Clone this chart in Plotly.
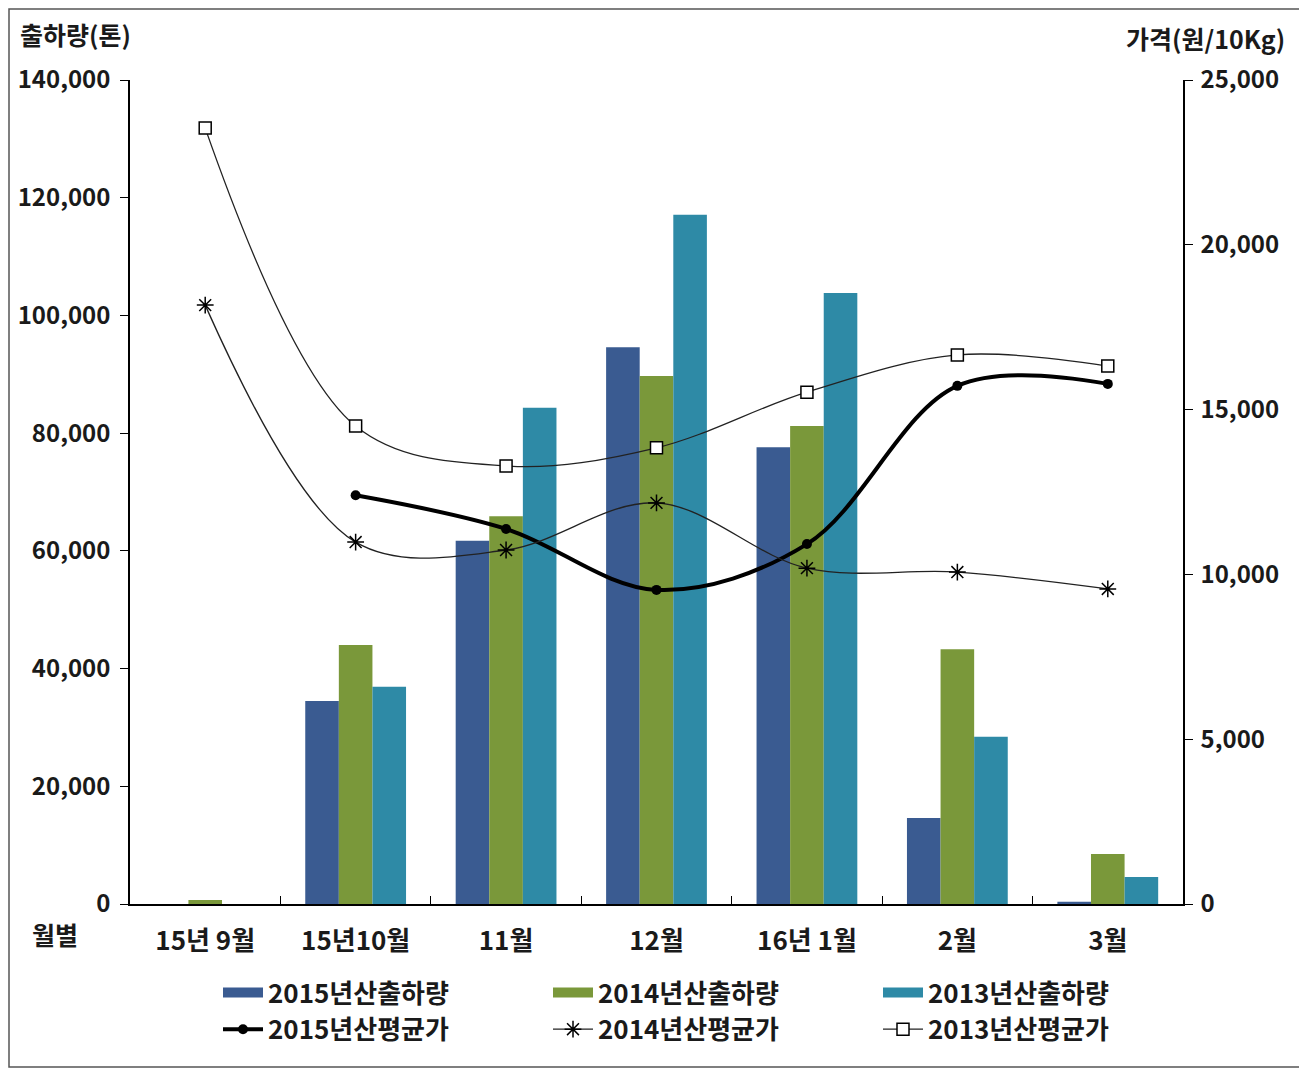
import plotly.graph_objects as go

categories = ["15년 9월", "15년10월", "11월", "12월", "16년 1월", "2월", "3월"]

ship_2015 = [0, 34500, 61700, 94600, 77600, 14600, 400]
ship_2014 = [700, 44000, 65900, 89700, 81200, 43300, 8500]
ship_2013 = [0, 36900, 84300, 117100, 103800, 28400, 4600]

price_2015 = [None, 12400, 11380, 9530, 10920, 15720, 15780]
price_2014 = [18170, 10980, 10740, 12170, 10190, 10070, 9560]
price_2013 = [23540, 14500, 13290, 13840, 15530, 16660, 16320]

bar_names = ["2015년산출하량", "2014년산출하량", "2013년산출하량"]
line_names = ["2015년산평균가", "2014년산평균가", "2013년산평균가"]
left_ticks = [0, 20000, 40000, 60000, 80000, 100000, 120000, 140000]
right_ticks = [0, 5000, 10000, 15000, 20000, 25000]

FONT = "Noto Sans CJK KR"
TXT = "#1a1a1a"
# the page body adds an 8px offset; figure coordinates = reference pixels - 8
OFF = 8
W, H = 1307 - OFF, 1069 - OFF
ML, MT = 130 - OFF, 80 - OFF
MR = W - (1183 - OFF)
MB = H - (904 - OFF)
pw = W - ML - MR
ph = H - MT - MB


def px(xabs):
    return (xabs - OFF - ML) / pw


def py(yabs):
    return (H - MB - (yabs - OFF)) / ph


fig = go.Figure()
bar_colors = ["#3A5B91", "#7A983A", "#2E8AA6"]
for name, vals, col in zip(bar_names, [ship_2015, ship_2014, ship_2013], bar_colors):
    fig.add_trace(go.Bar(x=categories, y=vals, name=name, marker=dict(color=col, line=dict(width=0)),
                         yaxis="y", showlegend=False, legendgroup=name))
# legend swatches drawn as wide bands (like the reference's bar keys)
for name, col in zip(bar_names, bar_colors):
    fig.add_trace(go.Scatter(x=[None], y=[None], name=name, mode="lines", legendgroup=name,
                             line=dict(color=col, width=13), yaxis="y"))

fig.add_trace(go.Scatter(x=categories, y=price_2015, name=line_names[0], yaxis="y2",
                         mode="lines+markers", line=dict(color="black", width=4, shape="spline"),
                         marker=dict(symbol="circle", size=10, color="black")))
fig.add_trace(go.Scatter(x=categories, y=price_2014, name=line_names[1], yaxis="y2",
                         mode="lines+markers", line=dict(color="#222222", width=1.3, shape="spline"),
                         marker=dict(symbol="asterisk-open", size=14, color="black",
                                     line=dict(color="black", width=1.5))))
fig.add_trace(go.Scatter(x=categories, y=price_2013, name=line_names[2], yaxis="y2",
                         mode="lines+markers", line=dict(color="#222222", width=1.3, shape="spline"),
                         marker=dict(symbol="square", size=12, color="white",
                                     line=dict(color="black", width=1.5))))

yfont = dict(family=FONT, size=24, color=TXT, weight="bold")
xfont = dict(family=FONT, size=26, color=TXT, weight="bold")
afont = dict(family=FONT, size=25, color=TXT, weight="bold")

fig.update_layout(
    width=W, height=H,
    margin=dict(l=ML, r=MR, t=MT, b=MB, autoexpand=False),
    paper_bgcolor="white", plot_bgcolor="white",
    font=dict(family=FONT, size=22, color=TXT),
    barmode="group", bargap=0.33, bargroupgap=0,
    showlegend=True,
    legend=dict(orientation="h", x=px(218), xanchor="left",
                y=py(969), yanchor="top",
                entrywidth=275, entrywidthmode="pixels",
                font=dict(family=FONT, size=26, color=TXT, weight="bold"),
                tracegroupgap=0, itemwidth=40, traceorder="normal"),
    xaxis=dict(type="category", showline=True, linecolor="black", linewidth=1.5,
               ticks="inside", ticklen=8, tickcolor="black", tickson="boundaries",
               ticklabelstandoff=13, showgrid=False, automargin=False,
               tickfont=xfont),
    yaxis=dict(range=[0, 140000], tickvals=left_ticks, tickformat=",", showline=True,
               linecolor="black", linewidth=1.5, ticks="outside", ticklen=8, tickcolor="black",
               showgrid=False, zeroline=False, ticklabelstandoff=5, automargin=False,
               tickfont=yfont),
    yaxis2=dict(range=[0, 25000], tickvals=right_ticks, tickformat=",", overlaying="y", side="right",
                showline=True, linecolor="black", linewidth=1.5, ticks="outside", ticklen=8,
                tickcolor="black", showgrid=False, zeroline=False, ticklabelstandoff=3,
                automargin=False, tickfont=yfont),
    annotations=[
        dict(text="출하량(톤)", xref="paper", yref="paper", x=px(18), y=py(34),
             xanchor="left", yanchor="middle", showarrow=False, font=afont),
        dict(text="가격(원/10Kg)", xref="paper", yref="paper", x=px(1287), y=py(38),
             xanchor="right", yanchor="middle", showarrow=False, font=afont),
        dict(text="월별", xref="paper", yref="paper", x=px(30), y=py(934),
             xanchor="left", yanchor="middle", showarrow=False, font=afont),
    ],
    shapes=[dict(type="rect", xref="paper", yref="paper",
                 x0=(1 - ML) / pw, x1=(W - 2 - ML) / pw,
                 y0=(H - MB - (H - 2)) / ph, y1=(H - MB - 1) / ph,
                 line=dict(color="#555555", width=1.5), fillcolor="rgba(0,0,0,0)", layer="below")],
)

fig.write_html("out.html")
